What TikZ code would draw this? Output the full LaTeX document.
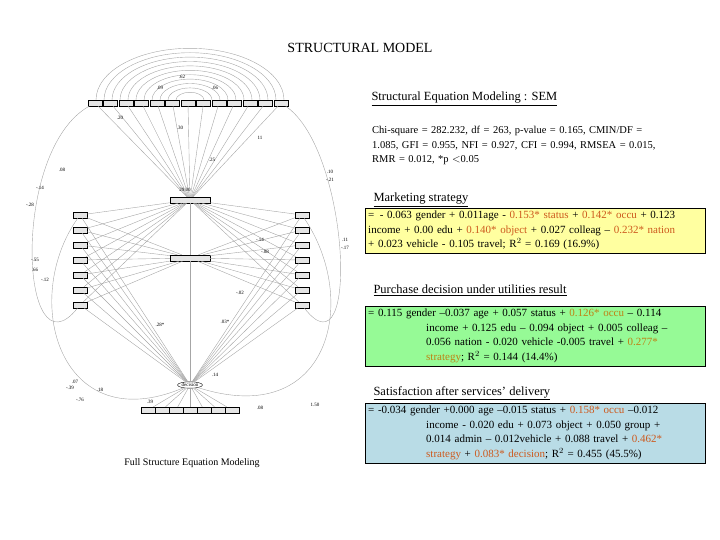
\documentclass[tikz,border=0pt]{standalone}
\usepackage{fontspec}
\usetikzlibrary{shapes.geometric}
\setmainfont{Liberation Serif}
\definecolor{hlc}{RGB}{205,90,30}
\definecolor{hlo}{RGB}{190,130,20}
\definecolor{yel}{RGB}{255,255,160}
\definecolor{grn}{RGB}{150,250,150}
\definecolor{blu}{RGB}{185,220,230}
\begin{document}
\begin{tikzpicture}[x=1pt,y=-1pt,
  ttl/.style={anchor=west,font=\fontsize{12.5}{14}\selectfont},
  eqbox/.style={draw=black,anchor=north west,minimum width=340pt,text width=334pt,inner sep=3pt,font=\fontsize{11}{14.5}\selectfont,align=left},
  ln/.style={draw=gray!70,line width=0.4pt},
  sm/.style={font=\fontsize{5}{5}\selectfont,inner sep=0.5pt},
  vbox/.style={draw=black,fill=gray!20,minimum width=14pt,minimum height=6pt,inner sep=0pt,font=\fontsize{4}{4}\selectfont}]
\useasboundingbox (0,0) rectangle (720,540);
\node (title) at (360,48) {\fontsize{14}{16}\selectfont STRUCTURAL MODEL};
% SEM diagram sketch
\foreach \r in {14,22,...,94}{\draw[ln] (190+\r,100) arc (0:180:\r pt and 0.55*\r pt);}
\foreach \i in {0,...,12}{\node[vbox] (t\i) at (95+15.5*\i,103) {};}
\foreach \i/\y in {1/215,2/230,3/245,4/260,5/275,6/290,7/305}{\node[vbox] (l\i) at (80,\y) {}; \node[vbox] (r\i) at (302,\y) {};}
\node[vbox,minimum width=40pt] (ms) at (190,200) {};
\node[vbox,minimum width=40pt] (pd) at (190,258) {};
\node[sm,draw,ellipse] (dec) at (190,385) {decision};
\foreach \i in {0,...,6}{\node[vbox] (b\i) at (148+14*\i,410) {};}
\foreach \i in {1,...,7}{\draw[ln] (l\i) -- (ms); \draw[ln] (l\i) -- (pd); \draw[ln] (r\i) -- (ms); \draw[ln] (r\i) -- (pd); \draw[ln] (l\i) -- (dec); \draw[ln] (r\i) -- (dec);}
\foreach \i in {0,...,12}{\draw[ln] (t\i) -- (ms);}
\foreach \i in {0,...,6}{\draw[ln] (b\i) -- (dec);}
\draw[ln] (ms) -- (pd) -- (dec);
\draw[ln] (l1) .. controls (20,300) and (60,440) .. (dec);
\draw[ln] (r1) .. controls (360,300) and (330,430) .. (dec);
\draw[ln] (t0) .. controls (10,150) and (20,380) .. (l7);
\draw[ln] (t12) .. controls (350,150) and (360,380) .. (r7);
\foreach \x/\y/\t in {182/77/.62,160/88/.09,215/88/.06,120/118/.20,260/138/11,62/170/.08,40/188/-.14,30/205/-.28,330/172/.10,330/180/-.21,180/128/.30,212/160/.25,185/190/29.00,260/240/-.14,265/252/-.08,240/293/-.02,160/325/.28*,225/322/.03*,75/382/.07,70/388/-.39,100/390/.18,215/375/.14,260/408/.08,315/405/1.50,80/400/-.76,35/260/-.55,35/270/.66,45/280/-.12,345/240/.11,345/248/-.17,150/402/.39}{\node[sm] at (\x,\y) {\t};}
\node[font=\fontsize{10}{12}\selectfont] (cap) at (192,463) {Full Structure Equation Modeling};
% right panel
\node[ttl] (sem) at (368,99) {\underline{Structural Equation Modeling : SEM}};
\node[anchor=north west,text width=340pt,font=\fontsize{10.5}{14.5}\selectfont,align=left,inner sep=0pt] (fit) at (372,126) {Chi-square = 282.232, df = 263, p-value = 0.165, CMIN/DF =\\ 1.085, GFI = 0.955, NFI = 0.927, CFI = 0.994, RMSEA = 0.015,\\ RMR = 0.012, *p $<$0.05};
\node[ttl] (mst) at (370,200) {\underline{Marketing strategy}};
\node[eqbox,fill=yel] (b1) at (365,208) {= \,- 0.063 gender + 0.011age - {\color{hlc}0.153* status} + {\color{hlc}0.142* occu} + 0.123\\ income + 0.00 edu + {\color{hlc}0.140* object} + 0.027 colleag -- {\color{hlc}0.232* nation}\\ + 0.023 vehicle - 0.105 travel; R$^2$ = 0.169 (16.9\%)};
\node[ttl] (pdt) at (370,290) {\underline{Purchase decision under utilities result}};
\node[eqbox,fill=grn] (b2) at (365,306) {= 0.115 gender --0.037 age + 0.057 status + {\color{hlo}0.126* occu} -- 0.114\\ \hspace*{58pt}income + 0.125 edu -- 0.094 object + 0.005 colleag --\\ \hspace*{58pt}0.056 nation - 0.020 vehicle -0.005 travel + {\color{hlo}0.277*}\\ \hspace*{58pt}{\color{hlo}strategy}; R$^2$ = 0.144 (14.4\%)};
\node[ttl] (sat) at (370,393) {\underline{Satisfaction after services' delivery}};
\node[eqbox,fill=blu] (b3) at (365,403) {= -0.034 gender +0.000 age --0.015 status + {\color{hlc}0.158* occu} --0.012\\ \hspace*{58pt}income - 0.020 edu + 0.073 object + 0.050 group +\\ \hspace*{58pt}0.014 admin -- 0.012vehicle + 0.088 travel + {\color{hlc}0.462*}\\ \hspace*{58pt}{\color{hlc}strategy} + {\color{hlc}0.083* decision}; R$^2$ = 0.455 (45.5\%)};
\end{tikzpicture}
\end{document}
